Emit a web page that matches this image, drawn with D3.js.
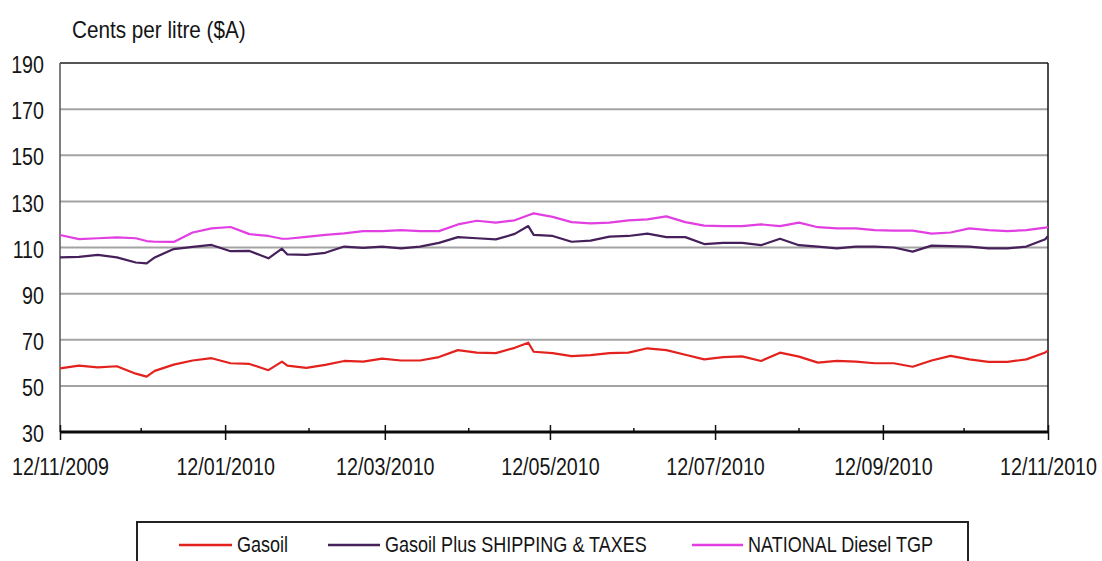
<!DOCTYPE html>
<html>
<head>
<meta charset="utf-8">
<script src="https://cdn.jsdelivr.net/npm/d3@7"></script>
<style>
  body { margin: 0; background: #fff; }
  text { font-family: "Liberation Sans", Arial, sans-serif; fill: #151515; }
</style>
</head>
<body>
<svg id="chart" width="1102" height="561"></svg>
<script>
// Observation dates (roughly weekly)
const dates = [
  "2009-11-12","2009-11-19","2009-11-26","2009-12-03","2009-12-10","2009-12-14","2009-12-17","2009-12-24","2009-12-31",
  "2010-01-07","2010-01-14","2010-01-21","2010-01-28","2010-02-02","2010-02-04","2010-02-11","2010-02-18","2010-02-25",
  "2010-03-04","2010-03-11","2010-03-18","2010-03-25","2010-04-01","2010-04-08","2010-04-15","2010-04-22","2010-04-29",
  "2010-05-04","2010-05-06","2010-05-13","2010-05-20","2010-05-27","2010-06-03","2010-06-10","2010-06-17","2010-06-24",
  "2010-07-01","2010-07-08","2010-07-15","2010-07-22","2010-07-29","2010-08-05","2010-08-12","2010-08-19","2010-08-26",
  "2010-09-02","2010-09-09","2010-09-16","2010-09-23","2010-09-30","2010-10-07","2010-10-14","2010-10-21","2010-10-28",
  "2010-11-04","2010-11-11","2010-11-12"
];

// Cents per litre
const gasoil = [
  57.6,58.8,58.0,58.5,55.3,54.0,56.5,59.2,61.0,
  62.0,59.8,59.5,56.8,60.5,58.8,57.8,59.1,60.8,
  60.5,61.8,61.0,61.0,62.5,65.5,64.4,64.2,66.5,
  68.7,64.8,64.2,62.9,63.3,64.2,64.4,66.3,65.5,
  63.5,61.5,62.5,62.8,60.8,64.4,62.7,60.1,60.8,
  60.5,59.8,59.8,58.3,61.0,63.0,61.5,60.4,60.4,
  61.5,64.5,65.3
];
const gasoilPlus = [
  105.7,105.9,106.8,105.7,103.5,103.1,105.7,109.3,110.3,
  111.1,108.4,108.5,105.3,109.5,107.0,106.8,107.7,110.4,
  109.8,110.4,109.6,110.4,112.0,114.5,114.0,113.5,115.9,
  119.3,115.5,115.0,112.5,113.0,114.7,115.0,116.0,114.5,
  114.5,111.5,112.0,112.0,111.0,113.8,111.0,110.4,109.6,
  110.4,110.4,110.0,108.2,110.8,110.6,110.4,109.6,109.6,
  110.4,113.6,115.0
];
const diesel = [
  115.4,113.6,114.0,114.4,114.0,112.8,112.5,112.4,116.5,
  118.3,118.9,115.8,115.0,113.8,113.8,114.6,115.5,116.1,
  117.1,117.1,117.5,117.1,117.1,120.0,121.6,120.8,121.8,
  124.0,124.8,123.3,121.0,120.5,120.8,121.8,122.2,123.5,
  121.0,119.5,119.3,119.3,120.0,119.3,120.8,118.8,118.3,
  118.3,117.5,117.3,117.3,116.0,116.5,118.3,117.5,117.1,
  117.5,118.6,118.8
];

const seriesNames = ["Gasoil", "Gasoil Plus SHIPPING & TAXES", "NATIONAL Diesel TGP"];
const seriesColors = ["#e3221d", "#45205a", "#e23fe2"];

const yTicks = [30, 50, 70, 90, 110, 130, 150, 170, 190];
const xMajorTicks = ["2009-11-12","2010-01-12","2010-03-12","2010-05-12","2010-07-12","2010-09-12","2010-11-12"];
const xMinorTicks = ["2009-12-12","2010-02-12","2010-04-12","2010-06-12","2010-08-12","2010-10-12"];
const yTitle = "Cents per litre ($A)";

const parse = d3.timeParse("%Y-%m-%d");
const fmt = d3.timeFormat("%d/%m/%Y");

const plot = { left: 60, right: 1048, top: 63, bottom: 432 };
const svg = d3.select("#chart");

const x = d3.scaleTime()
  .domain([parse(xMajorTicks[0]), parse(xMajorTicks[xMajorTicks.length - 1])])
  .range([plot.left, plot.right]);
const y = d3.scaleLinear().domain([30, 190]).range([plot.bottom, plot.top]);

// horizontally condensed text helper
function label(parent, tx, ty, str, size, sx, anchor) {
  return parent.append("text")
    .attr("transform", `translate(${tx},${ty}) scale(${sx},1)`)
    .attr("text-anchor", anchor || "start")
    .style("font-size", size + "px")
    .text(str);
}

// horizontal grid lines
svg.append("g").selectAll("line")
  .data(yTicks.filter(v => v > 30))
  .join("line")
  .attr("x1", plot.left).attr("x2", plot.right)
  .attr("y1", d => y(d)).attr("y2", d => y(d))
  .attr("stroke", d => d === 190 ? "#555" : "#a3a3a3")
  .attr("stroke-width", 2);

// left and right frame
svg.append("line").attr("x1", plot.left).attr("x2", plot.left)
  .attr("y1", plot.top).attr("y2", plot.bottom)
  .attr("stroke", "#555").attr("stroke-width", 1.5);
svg.append("line").attr("x1", plot.right).attr("x2", plot.right)
  .attr("y1", plot.top).attr("y2", plot.bottom)
  .attr("stroke", "#111").attr("stroke-width", 1.5);

// y axis labels
const yAxis = d3.axisLeft(y).tickValues(yTicks).tickSize(0).tickPadding(0).tickFormat(d3.format("d"));
const gy = svg.append("g").attr("transform", `translate(${plot.left},0)`).call(yAxis);
gy.select(".domain").remove();
gy.selectAll("text")
  .attr("x", 0).attr("dy", "0.36em")
  .attr("transform", "translate(-16,1) scale(0.82,1)")
  .style("font-size", "24px")
  .style("font-family", "\"Liberation Sans\", Arial, sans-serif")
  .attr("fill", "#151515");

// x axis: major ticks crossing the line, minor ticks above it
const xAxis = d3.axisBottom(x)
  .tickValues(xMajorTicks.map(parse))
  .tickSizeInner(8).tickSizeOuter(0).tickPadding(0)
  .tickFormat(fmt);
const gx = svg.append("g").attr("transform", `translate(0,${plot.bottom})`).call(xAxis);
gx.select(".domain").remove();
gx.selectAll(".tick line").attr("y1", -7).attr("y2", 8).attr("stroke", "#111").attr("stroke-width", 1.5);
gx.selectAll("text")
  .attr("y", 0).attr("dy", 0)
  .attr("transform", "translate(0,43) scale(0.82,1)")
  .style("font-size", "24px")
  .style("font-family", "\"Liberation Sans\", Arial, sans-serif")
  .attr("fill", "#151515");

svg.append("g").selectAll("line")
  .data(xMinorTicks.map(parse))
  .join("line")
  .attr("x1", d => x(d)).attr("x2", d => x(d))
  .attr("y1", plot.bottom - 4).attr("y2", plot.bottom)
  .attr("stroke", "#111").attr("stroke-width", 1.5);

svg.append("line").attr("x1", plot.left).attr("x2", plot.right)
  .attr("y1", plot.bottom).attr("y2", plot.bottom)
  .attr("stroke", "#0a0a0a").attr("stroke-width", 3);

// series lines
const seriesValues = [gasoil, gasoilPlus, diesel];
const line = d3.line()
  .x(d => x(d.date))
  .y(d => y(d.value));
seriesValues.forEach((vals, i) => {
  const pts = dates.map((d, j) => ({ date: parse(d), value: vals[j] }));
  svg.append("path")
    .datum(pts)
    .attr("fill", "none")
    .attr("stroke", seriesColors[i])
    .attr("stroke-width", 2.2)
    .attr("stroke-linejoin", "round")
    .attr("d", line);
});

// axis title
label(svg, 72, 38, yTitle, 23, 0.9);

// legend
const legend = svg.append("g");
legend.append("rect")
  .attr("x", 137).attr("y", 522).attr("width", 831).attr("height", 60)
  .attr("fill", "#fff").attr("stroke", "#222").attr("stroke-width", 2);
const legendItems = [
  { x1: 179, x2: 232, tx: 237 },
  { x1: 328, x2: 380, tx: 385 },
  { x1: 692, x2: 743, tx: 748 }
];
legendItems.forEach((it, i) => {
  legend.append("line")
    .attr("x1", it.x1).attr("x2", it.x2).attr("y1", 545).attr("y2", 545)
    .attr("stroke", seriesColors[i]).attr("stroke-width", 2.5);
  label(legend, it.tx, 552, seriesNames[i], 22, 0.82);
});
</script>
</body>
</html>
